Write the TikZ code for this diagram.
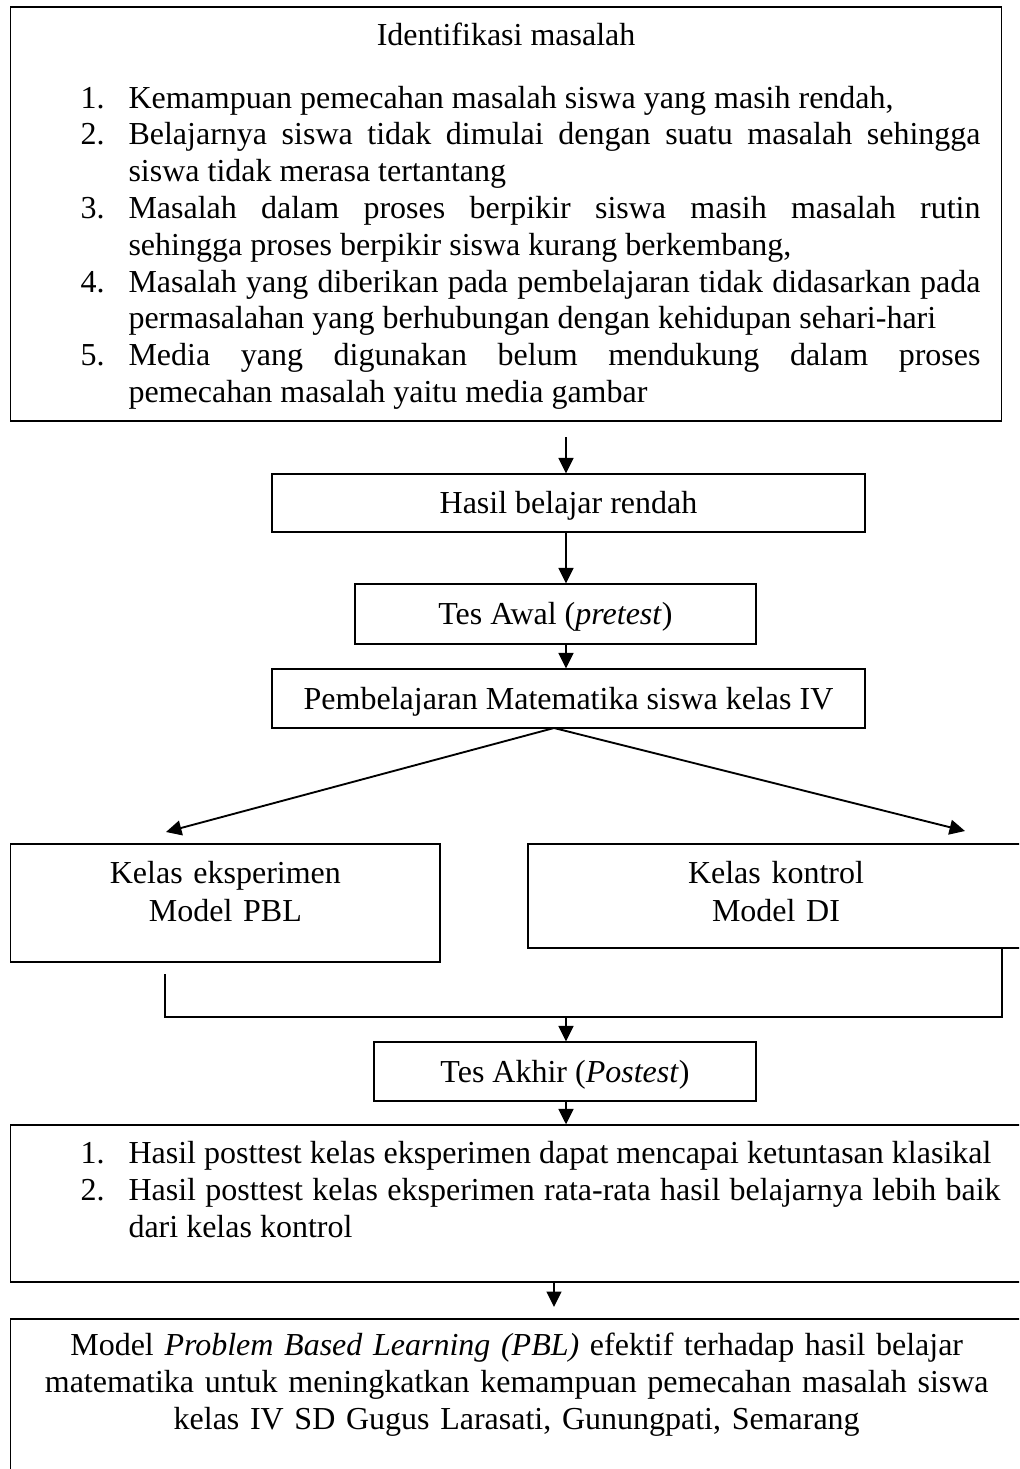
\documentclass[tikz,border=0pt]{standalone}
\usepackage{fontspec}
\setmainfont{Liberation Serif}
\usetikzlibrary{arrows.meta}

% butir daftar bernomor dengan indentasi gantung
\newcommand{\butir}[2]{\hangindent=18pt\hangafter=1\noindent\makebox[18pt][l]{#1}#2\par}

\begin{document}
\begin{tikzpicture}[x=0.375pt, y=-0.375pt,
    every node/.style={font=\fontsize{12pt}{13.8pt}\selectfont},
    kotak/.style={draw, line width=0.5pt, inner sep=0pt, text height=9pt, text depth=1pt},
    bingkai/.style={draw, line width=0.5pt, inner sep=0pt},
    isi/.style={inner sep=0pt},
    panah/.style={line width=0.7pt, -{Triangle[length=5.8pt,width=5.6pt]}},
    garis/.style={line width=0.5pt}]
    \useasboundingbox (0,0) rectangle (1019,1469);
    \clip (0,0) rectangle (1019,1469);

    % Identifikasi masalah
    \node[bingkai, minimum width=371.7pt, minimum height=155.25pt] (identifikasi) at (506.1,214) {};
    \node[isi, anchor=base] (judul) at (506.1,45) {Identifikasi masalah};
    \node[isi, anchor=base west, text width=337.5pt, align=justify] (masalah) at (80,108) {%
        \hyphenpenalty=10000 \exhyphenpenalty=10000 \tolerance=10000
        \butir{1.}{Kemampuan pemecahan masalah siswa yang masih rendah,}
        \butir{2.}{Belajarnya siswa tidak dimulai dengan suatu masalah sehingga\linebreak siswa tidak merasa tertantang}
        \butir{3.}{Masalah dalam proses berpikir siswa masih masalah rutin\linebreak sehingga proses berpikir siswa kurang berkembang,}
        \butir{4.}{Masalah yang diberikan pada pembelajaran tidak didasarkan pada\linebreak permasalahan yang berhubungan dengan kehidupan sehari-hari}
        \butir{5.}{Media yang digunakan belum mendukung dalam proses\linebreak pemecahan masalah yaitu media gambar}};

    % Kotak alur tengah
    \node[kotak, minimum width=222.4pt, minimum height=21.75pt] (hasil) at (568.5,503) {Hasil belajar rendah};
    \node[kotak, minimum width=150.4pt, minimum height=22.5pt] (awal) at (555.5,614) {Tes Awal (\textit{pretest})};
    \node[kotak, minimum width=222.4pt, minimum height=22.1pt] (pembelajaran) at (568.5,698.5) {Pembelajaran Matematika siswa kelas IV};

    % Kelas eksperimen dan kelas kontrol
    \node[bingkai, minimum width=161pt, minimum height=44.25pt] (eksperimen) at (225.4,903) {};
    \node[isi, anchor=base, text width=150pt, align=center, font=\fontsize{12pt}{14.6pt}\selectfont] (tekseksperimen) at (225.4,883) {Kelas eksperimen\\Model PBL};
    \node[bingkai, minimum width=186pt, minimum height=39pt] (kontrol) at (776,896) {};
    \node[isi, anchor=base, text width=150pt, align=center, font=\fontsize{12pt}{14.6pt}\selectfont] (tekskontrol) at (776,883) {Kelas kontrol\\Model DI};

    \node[kotak, minimum width=143.25pt, minimum height=22.1pt] (akhir) at (565,1071.5) {Tes Akhir (\textit{Postest})};

    % Hasil posttest
    \node[bingkai, minimum width=380pt, minimum height=58.9pt] (hasilakhir) at (517.4,1203.5) {};
    \node[isi, anchor=base west, text width=345pt, align=justify, font=\fontsize{12pt}{14pt}\selectfont] (temuan) at (80,1163) {%
        \hyphenpenalty=10000 \exhyphenpenalty=10000 \tolerance=10000
        \butir{1.}{Hasil posttest kelas eksperimen dapat mencapai ketuntasan klasikal}
        \butir{2.}{Hasil posttest kelas eksperimen rata-rata hasil belajarnya lebih baik\linebreak dari kelas kontrol}};

    % Simpulan
    \node[bingkai, minimum width=380pt, minimum height=64.1pt] (simpulan) at (517.4,1404.5) {};
    \node[isi, anchor=base, text width=375pt, align=center, font=\fontsize{12pt}{14pt}\selectfont] (tekssimpulan) at (516.7,1355) {%
        Model \textit{Problem Based Learning (PBL)} efektif terhadap hasil belajar\\
        matematika untuk meningkatkan kemampuan pemecahan masalah siswa\\
        kelas IV SD Gugus Larasati, Gunungpati, Semarang};

    % Panah alur
    \coordinate (poros) at (566,437);
    \draw[panah] (poros) -- (poros |- hasil.north);
    \draw[panah] (poros |- hasil.south) -- (poros |- awal.north);
    \draw[panah] (poros |- awal.south) -- (poros |- pembelajaran.north);

    % Panah bercabang
    \coordinate (cabang) at (554,728);
    \coordinate (ujungkiri) at (166,832);
    \coordinate (ujungkanan) at (965,831);
    \draw[panah] (cabang) -- (ujungkiri);
    \draw[panah] (cabang) -- (ujungkanan);

    % Garis penggabung
    \coordinate (gabungkiri) at (165,974);
    \coordinate (gabungkanan) at (1002,948);
    \coordinate (gabung) at (566,1017);
    \draw[garis] (gabungkiri) |- (gabung -| gabungkanan) -- (gabungkanan);
    \draw[panah] (gabung) -- (gabung |- akhir.north);
    \draw[panah] (poros |- akhir.south) -- (poros |- hasilakhir.north);

    % Panah ke simpulan
    \coordinate (ujungbawah) at (554,1307);
    \draw[panah] (hasilakhir.south -| ujungbawah) -- (ujungbawah);
\end{tikzpicture}
\end{document}
